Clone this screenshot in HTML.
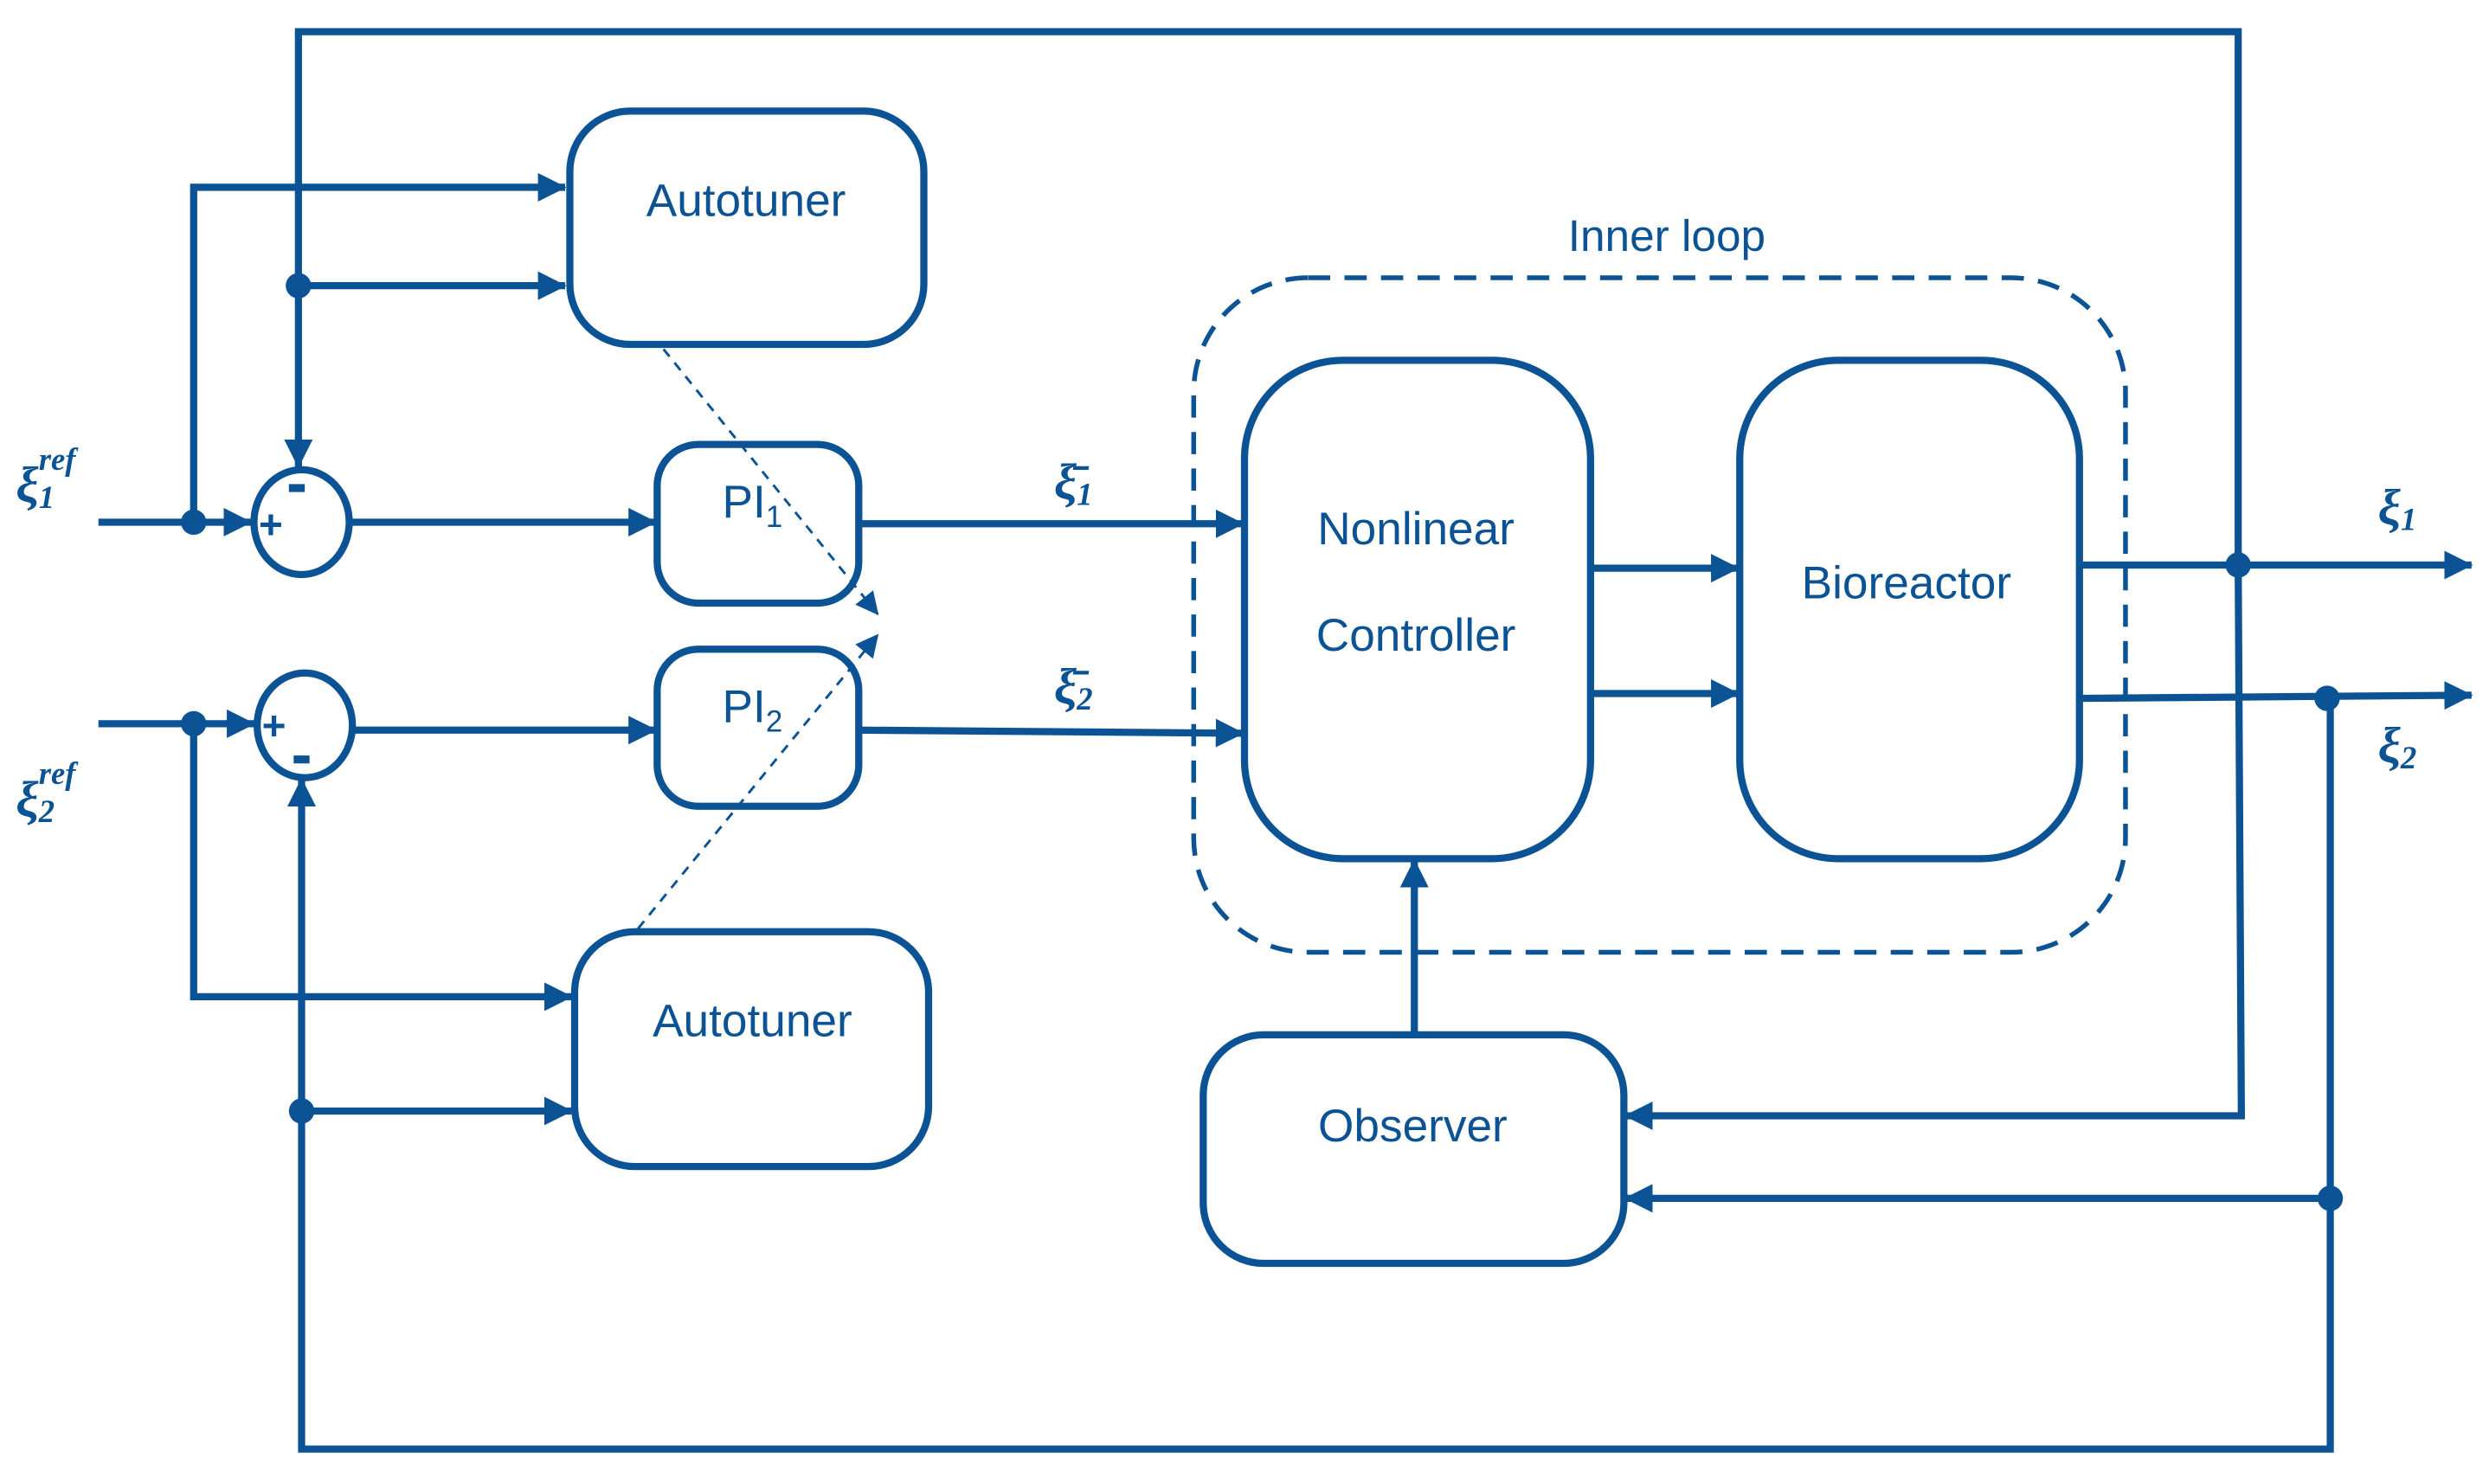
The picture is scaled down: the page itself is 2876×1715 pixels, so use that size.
<!DOCTYPE html>
<html><head><meta charset="utf-8"><style>
html,body{margin:0;padding:0;background:#fff;}
svg{display:block;}
text{font-family:"Liberation Sans",Arial,sans-serif;fill:#0b5394;}
.m{font-family:"Liberation Serif",serif;font-style:italic;font-weight:bold;}
</style></head><body>
<svg width="2876" height="1715" viewBox="0 0 1568 935" preserveAspectRatio="none" xmlns="http://www.w3.org/2000/svg">
<defs>
<marker id="a" markerWidth="4" markerHeight="4" refX="3.8" refY="2" orient="auto" markerUnits="strokeWidth">
<path d="M0,0 L4,2 L0,4 z" fill="#0b5394"/></marker>
<marker id="d" markerWidth="9" markerHeight="9" refX="8.5" refY="4.5" orient="auto" markerUnits="strokeWidth">
<path d="M0,0 L9,4.5 L0,9 z" fill="#0b5394"/></marker>
</defs>
<g fill="none" stroke="#0b5394" stroke-width="4.5">
<polyline points="1410,356 1410,20 188,20 188,294" marker-end="url(#a)"/>
<polyline points="188,180 356,180" marker-end="url(#a)"/>
<polyline points="62,329 158,329" marker-end="url(#a)"/>
<polyline points="122,329 122,118 356,118" marker-end="url(#a)"/>
<ellipse cx="190" cy="329" rx="30" ry="33"/>
<polyline points="221,329 413,329" marker-end="url(#a)"/>
<polyline points="62,456 160,456" marker-end="url(#a)"/>
<polyline points="122,456 122,628 360,628" marker-end="url(#a)"/>
<ellipse cx="192" cy="457" rx="30" ry="33"/>
<polyline points="223,460 413,460" marker-end="url(#a)"/>
<polyline points="1468,440 1468,913 190,913 190,491" marker-end="url(#a)"/>
<polyline points="190,700 360,700" marker-end="url(#a)"/>
<rect x="359" y="70" width="223" height="147" rx="38"/>
<rect x="362" y="587" width="223" height="148" rx="38"/>
<rect x="414" y="280" width="127" height="100" rx="26"/>
<rect x="414" y="409" width="127" height="99" rx="26"/>
<rect x="784" y="227" width="218" height="314" rx="62"/>
<rect x="1096" y="227" width="214" height="314" rx="62"/>
<rect x="758" y="652" width="265" height="144" rx="38"/>
<polyline points="541,330 783,330" marker-end="url(#a)"/>
<polyline points="541,460 783,462" marker-end="url(#a)"/>
<polyline points="1002,358 1095,358" marker-end="url(#a)"/>
<polyline points="1004,437 1095,437" marker-end="url(#a)"/>
<polyline points="1310,356 1557,356" marker-end="url(#a)"/>
<polyline points="1310,440 1557,438" marker-end="url(#a)"/>
<polyline points="891,652 891,542" marker-end="url(#a)"/>
<polyline points="1410,356 1412,703 1024,703" marker-end="url(#a)"/>
<polyline points="1468,755 1024,755" marker-end="url(#a)"/>
<rect x="752" y="175" width="587" height="425" rx="72" stroke-width="3" stroke-dasharray="14,9"/>
<line x1="418" y1="220" x2="553" y2="387" stroke-width="1.6" stroke-dasharray="6,5" marker-end="url(#d)"/>
<line x1="402" y1="585" x2="553" y2="400" stroke-width="1.6" stroke-dasharray="6,5" marker-end="url(#d)"/>
</g>
<g fill="#0b5394">
<circle cx="122" cy="329" r="8"/><circle cx="188" cy="180" r="8"/>
<circle cx="122" cy="456" r="8"/><circle cx="190" cy="700" r="8"/>
<circle cx="1410" cy="356" r="8"/><circle cx="1466" cy="440" r="8"/>
<circle cx="1468" cy="755" r="8"/>
<rect x="182" y="305" width="10" height="5"/>
<rect x="185" y="476" width="10" height="5"/>
</g>
<text x="163" y="339" font-size="26" font-weight="bold">+</text>
<text x="165" y="466" font-size="26" font-weight="bold">+</text>
<text x="470" y="136" font-size="29" text-anchor="middle">Autotuner</text>
<text x="474" y="653" font-size="29" text-anchor="middle">Autotuner</text>
<text x="455" y="326" font-size="29">PI<tspan font-size="19" dy="6">1</tspan></text>
<text x="455" y="455" font-size="29">PI<tspan font-size="19" dy="6">2</tspan></text>
<text x="892" y="343" font-size="29" text-anchor="middle">Nonlinear</text>
<text x="892" y="410" font-size="29" text-anchor="middle">Controller</text>
<text x="1201" y="377" font-size="29" text-anchor="middle">Bioreactor</text>
<text x="890" y="719" font-size="29" text-anchor="middle">Observer</text>
<text x="1050" y="158" font-size="28" text-anchor="middle">Inner loop</text>
<text class="m" x="10" y="316" font-size="32">ξ<tspan font-size="20" dy="4">1</tspan><tspan font-size="20" dx="-10" dy="-24">ref</tspan></text>
<text class="m" x="10" y="514" font-size="32">ξ<tspan font-size="20" dy="4">2</tspan><tspan font-size="20" dx="-10" dy="-24">ref</tspan></text>
<text class="m" x="664" y="314" font-size="32">ξ̄<tspan font-size="20" dy="4">1</tspan></text>
<text class="m" x="664" y="443" font-size="32">ξ̄<tspan font-size="20" dy="4">2</tspan></text>
<text class="m" x="1498" y="330" font-size="32">ξ<tspan font-size="20" dy="4">1</tspan></text>
<text class="m" x="1498" y="480" font-size="32">ξ<tspan font-size="20" dy="4">2</tspan></text>
</svg>
</body></html>
